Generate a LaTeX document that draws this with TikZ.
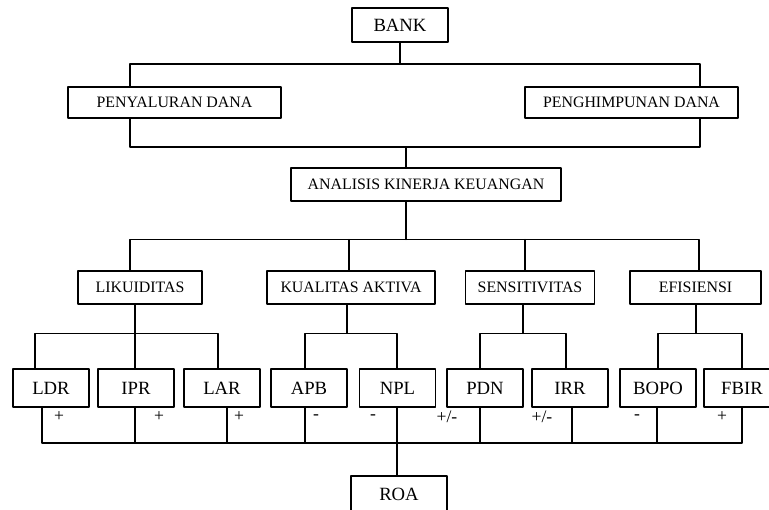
\documentclass[tikz,border=0pt]{standalone}
\usepackage{fontspec}
\setmainfont{Liberation Serif}
\newcommand{\besar}{\fontsize{13.3}{15}\selectfont}
\newcommand{\sedang}{\fontsize{11.3}{13}\selectfont}
\newcommand{\kecil}{\fontsize{12.5}{14}\selectfont}
\begin{document}
\begin{tikzpicture}[line cap=round,line join=round,x=1.0cm,y=1.0cm,line width=0.9pt,
    box/.style={draw, inner sep=0pt, minimum height=0.825cm, font=\sedang},
    bigbox/.style={box, minimum width=1.9cm, minimum height=0.95cm, font=\besar},
    sign/.style={inner sep=0pt, font=\kecil}]
	\useasboundingbox (0,0) rectangle (19.225,-12.725);
	% level 1 and 2
	\node[box, minimum width=2.4cm, minimum height=0.85cm, font=\besar] (bank) at (10.0,-0.625) {BANK};
	\node[box, minimum width=5.325cm, minimum height=0.775cm] (salur) at (4.3625,-2.5625) {PENYALURAN DANA};
	\node[box, minimum width=5.325cm, minimum height=0.775cm] (himpun) at (15.7875,-2.5625) {PENGHIMPUNAN DANA};
	\node[box, minimum width=6.75cm] (analisis) at (10.65,-4.6125) {ANALISIS KINERJA KEUANGAN};
	% level 3
	\node[box, minimum width=3.1cm] (likuid) at (3.5,-7.1875) {LIKUIDITAS};
	\node[box, minimum width=4.2cm] (kualitas) at (8.775,-7.1875) {KUALITAS AKTIVA};
	\node[box, minimum width=3.225cm] (sensitiv) at (13.25,-7.1875) {SENSITIVITAS};
	\node[box, minimum width=3.275cm] (efisien) at (17.3875,-7.1875) {EFISIENSI};
	% level 4
	\node[bigbox] (ldr) at (1.275,-9.7) {LDR};
	\node[bigbox] (ipr) at (3.4,-9.7) {IPR};
	\node[bigbox] (lar) at (5.55,-9.7) {LAR};
	\node[bigbox] (apb) at (7.725,-9.7) {APB};
	\node[bigbox] (npl) at (9.9375,-9.7) {NPL};
	\node[bigbox] (pdn) at (12.125,-9.7) {PDN};
	\node[bigbox] (irr) at (14.25,-9.7) {IRR};
	\node[bigbox] (bopo) at (16.45,-9.7) {BOPO};
	\node[bigbox] (fbir) at (18.55,-9.7) {FBIR};
	\node[box, minimum width=2.4cm, minimum height=0.9cm, font=\besar] (roa) at (9.975,-12.35) {ROA};
	% signs
	\node[sign] (sg1) at (1.475,-10.425) {+};
	\node[sign] (sg2) at (3.975,-10.425) {+};
	\node[sign] (sg3) at (5.975,-10.425) {+};
	\node[sign] (sg4) at (7.9,-10.425) {-};
	\node[sign] (sg5) at (9.325,-10.425) {-};
	\node[sign] (sg6) at (11.175,-10.425) {+/-};
	\node[sign] (sg7) at (13.55,-10.425) {+/-};
	\node[sign] (sg8) at (15.925,-10.425) {-};
	\node[sign] (sg9) at (18.05,-10.425) {+};
	% bus points
	\coordinate (t1) at (3.25,-1.6);
	\coordinate (t2) at (17.5,-1.6);
	\coordinate (u0) at (10.15,-3.675);
	\coordinate (u1) at (3.25,-3.675);
	\coordinate (u2) at (17.5,-3.675);
	\coordinate (v0) at (10.15,-5.9875);
	\coordinate (v1) at (3.25,-5.9875);
	\coordinate (v2) at (8.725,-5.9875);
	\coordinate (v3) at (13.125,-5.9875);
	\coordinate (v4) at (17.475,-5.9875);
	\coordinate (a0) at (3.375,-8.3375);
	\coordinate (a1) at (0.875,-8.3375);
	\coordinate (a2) at (5.45,-8.3375);
	\coordinate (b0) at (8.675,-8.3375);
	\coordinate (b1) at (7.625,-8.3375);
	\coordinate (b2) at (9.925,-8.3375);
	\coordinate (c0) at (13.075,-8.3375);
	\coordinate (c1) at (12.0,-8.3375);
	\coordinate (c2) at (14.15,-8.3375);
	\coordinate (d0) at (17.4,-8.3375);
	\coordinate (d1) at (16.45,-8.3375);
	\coordinate (d2) at (18.55,-8.3375);
	\foreach \n/\x in {ldr/1.05, ipr/3.375, lar/5.675, apb/7.625, npl/9.925, pdn/12.0, irr/14.3, bopo/16.425, fbir/18.55}
		\coordinate (z-\n) at (\x,-11.075);
	% connectors
	\draw (bank.south) -- (bank.south |- t1);
	\draw (salur.north -| t1) -- (t1) -- (t2) -- (himpun.north -| t2);
	\draw (salur.south -| u1) -- (u1) -- (u2) -- (himpun.south -| u2);
	\draw (u0) -- (analisis.north -| u0);
	\draw (analisis.south -| v0) -- (v0);
	\draw (likuid.north -| v1) -- (v1) -- (v4) -- (efisien.north -| v4);
	\draw (kualitas.north -| v2) -- (v2);
	\draw (sensitiv.north -| v3) -- (v3);
	\draw (likuid.south -| a0) -- (ipr.north -| a0);
	\draw (ldr.north -| a1) -- (a1) -- (a2) -- (lar.north -| a2);
	\draw (kualitas.south -| b0) -- (b0);
	\draw (apb.north -| b1) -- (b1) -- (b2) -- (npl.north -| b2);
	\draw (sensitiv.south -| c0) -- (c0);
	\draw (pdn.north -| c1) -- (c1) -- (c2) -- (irr.north -| c2);
	\draw (efisien.south -| d0) -- (d0);
	\draw (bopo.north -| d1) -- (d1) -- (d2) -- (fbir.north -| d2);
	\draw (ldr.south -| z-ldr) -- (z-ldr) -- (z-fbir) -- (fbir.south -| z-fbir);
	\foreach \n in {ipr, lar, apb, npl, pdn, irr, bopo}
		\draw (\n.south -| z-\n) -- (z-\n);
	\draw (z-npl) -- (roa.north -| z-npl);
\end{tikzpicture}
\end{document}
